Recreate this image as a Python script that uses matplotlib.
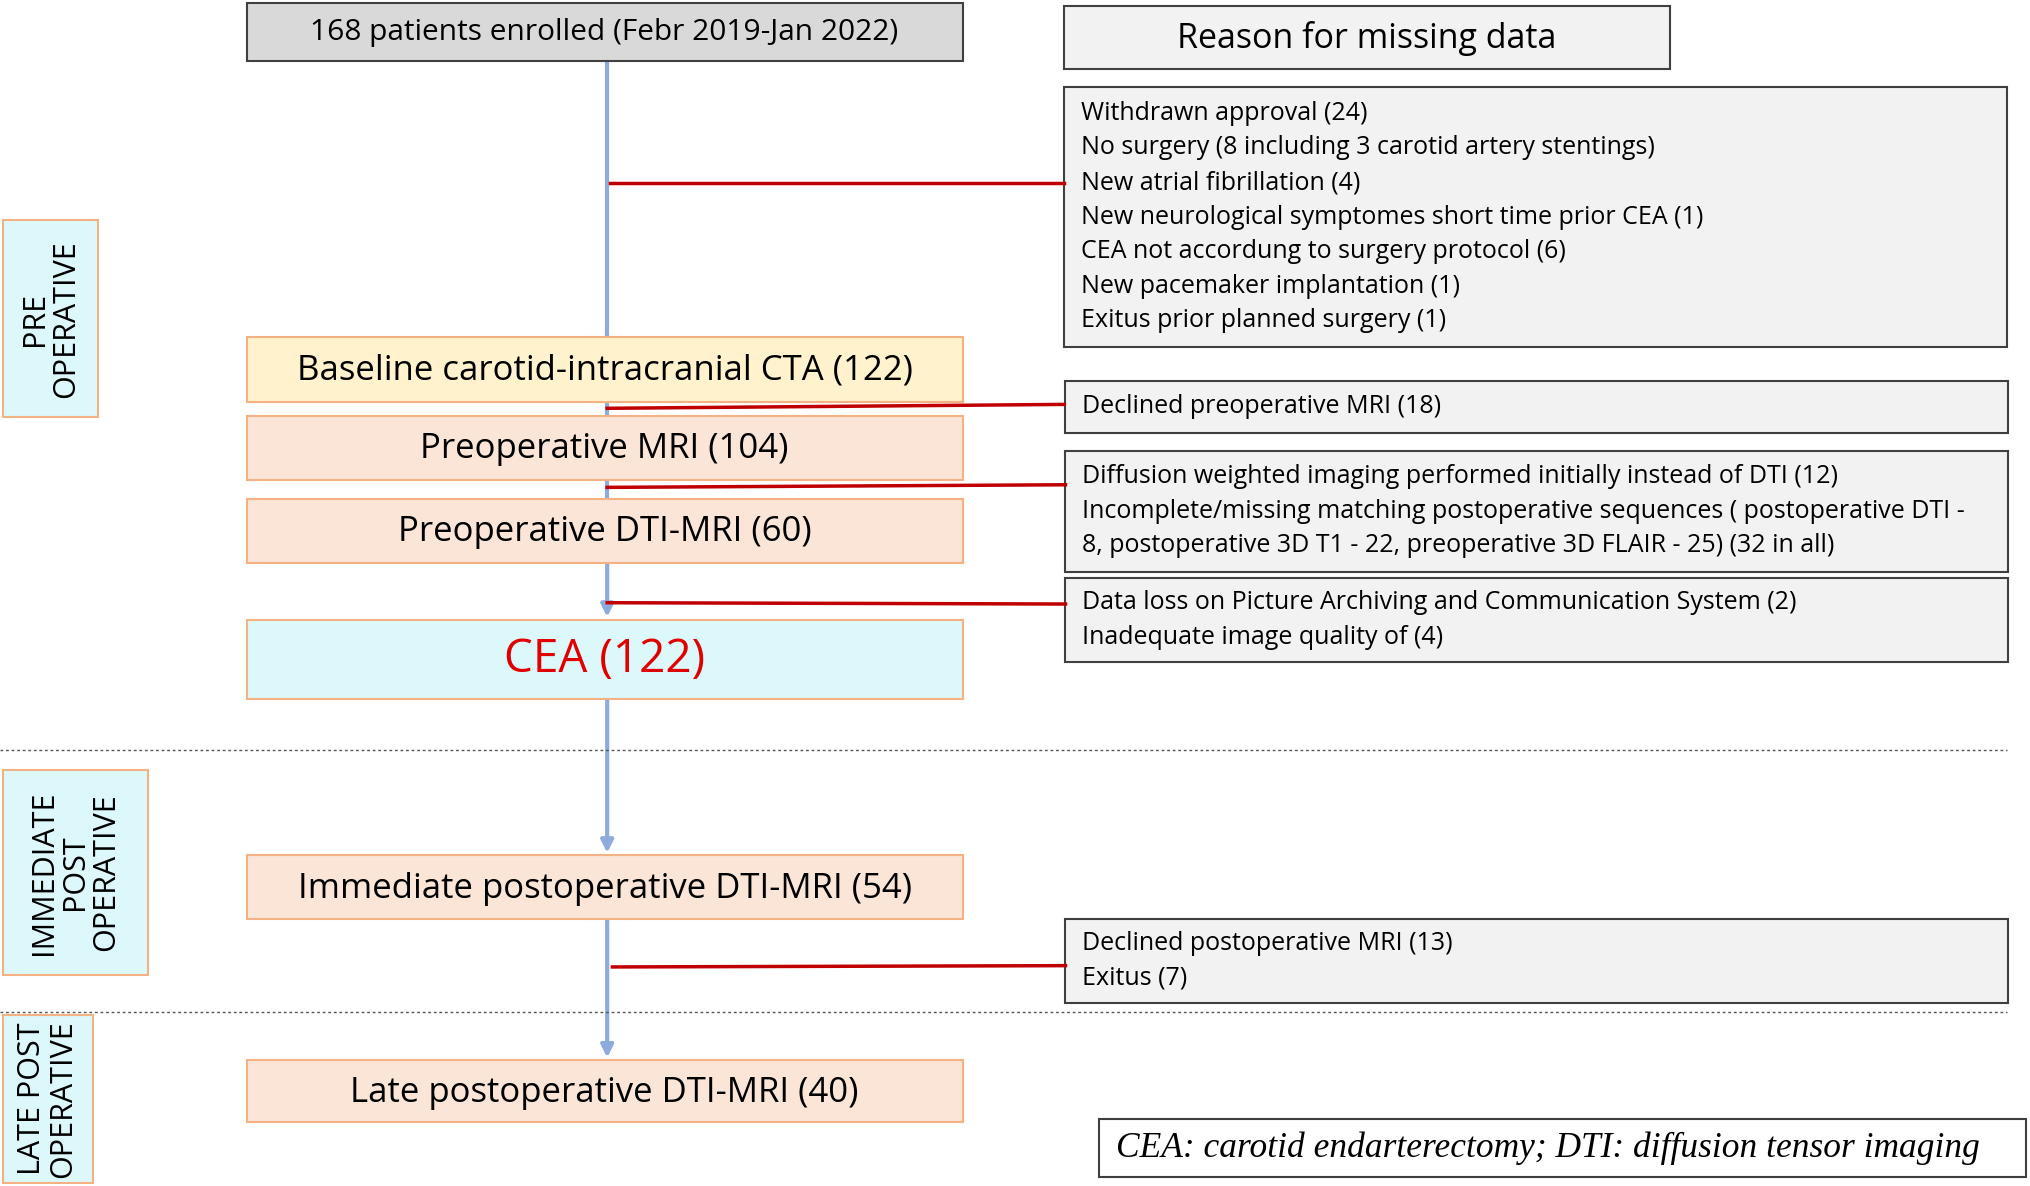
import matplotlib
matplotlib.use("Agg")
import matplotlib.pyplot as plt
from matplotlib.patches import Rectangle, FancyArrowPatch

FONT = "Open Sans"
top_label = "168 patients enrolled (Febr 2019-Jan 2022)"
flow_labels = ["Baseline carotid-intracranial CTA (122)", "Preoperative MRI (104)",
               "Preoperative DTI-MRI (60)", "CEA (122)",
               "Immediate postoperative DTI-MRI (54)", "Late postoperative DTI-MRI (40)"]
reason_groups = [
    ["Withdrawn approval (24)", "No surgery (8 including 3 carotid artery stentings)",
     "New atrial fibrillation (4)", "New neurological symptomes short time prior CEA (1)",
     "CEA not accordung to surgery protocol (6)", "New pacemaker implantation (1)",
     "Exitus prior planned surgery (1)"],
    ["Declined preoperative MRI (18)"],
    ["Diffusion weighted imaging performed initially instead of DTI (12)",
     "Incomplete/missing matching postoperative sequences ( postoperative DTI -",
     "8, postoperative 3D T1 - 22, preoperative 3D FLAIR - 25) (32 in all)"],
    ["Data loss on Picture Archiving and Communication System (2)",
     "Inadequate image quality of (4)"],
    ["Declined postoperative MRI (13)", "Exitus (7)"],
]
phase_labels = ["PRE\nOPERATIVE", "IMMEDIATE\nPOST\nOPERATIVE", "LATE POST\nOPERATIVE"]
footnote = "CEA: carotid endarterectomy; DTI: diffusion tensor imaging"

fig = plt.figure(figsize=(20.3, 11.86), dpi=100)
ax = fig.add_axes([0, 0, 1, 1])
ax.set_xlim(0, 1568); ax.set_ylim(915, 0); ax.axis("off")

def box(x0, y0, x1, y1, fc, ec, lw=1.5):
    ax.add_patch(Rectangle((x0, y0), x1 - x0, y1 - y0, facecolor=fc, edgecolor=ec, lw=lw, zorder=2))

blue = "#8faadc"; red = "#c00000"; orange = "#f4b183"
for (a, b, arr) in [(47, 260, False), (310, 321, False), (370, 385, False), (434, 476, True),
                    (539, 658, True), (709, 816, True)]:
    if arr:
        ax.add_patch(FancyArrowPatch((469, a), (469, b), arrowstyle="-|>", mutation_scale=18,
                                     color=blue, lw=3, zorder=1, shrinkA=0, shrinkB=0))
    else:
        ax.plot([469, 469], [a, b], color=blue, lw=3, zorder=1)

for y in [579, 781]:
    ax.plot([0, 1550], [y, y], color="#555555", lw=1, ls=(0, (2, 2)), zorder=1)

box(191, 2, 744, 47, "#d9d9d9", "#404040")
ax.text(467, 25, top_label, ha="center", va="center", fontsize=21.5, family=FONT, zorder=3)

flow_pos = [(260, 310), (321, 370), (385, 434), (478, 539), (660, 709), (818, 866)]
flow_fc = ["#fff2cc", "#fbe5d6", "#fbe5d6", "#dcf8fb", "#fbe5d6", "#fbe5d6"]
for lab, (y0, y1), fc in zip(flow_labels, flow_pos, flow_fc):
    box(191, y0, 744, y1, fc, orange)
    is_cea = lab.startswith("CEA")
    ax.text(467, (y0 + y1) / 2 + 1, lab, ha="center", va="center", family=FONT, zorder=3,
            fontsize=33 if is_cea else 25, color="#e00000" if is_cea else "black")

box(822, 5, 1290, 53, "#f2f2f2", "#404040")
ax.text(1056, 30, "Reason for missing data", ha="center", va="center", fontsize=24.5, family=FONT, zorder=3)

reason_boxes = [(822, 67, 1550, 268), (823, 294, 1551, 334), (823, 348, 1551, 441),
                (823, 446, 1551, 511), (823, 709, 1551, 774)]
for lines, (x0, y0, x1, y1) in zip(reason_groups, reason_boxes):
    box(x0, y0, x1, y1, "#f2f2f2", "#404040")
    n = len(lines); step = 26.7
    start = (y0 + y1) / 2 - step * (n - 1) / 2
    for i, t in enumerate(lines):
        ax.text(x0 + 13, start + i * step, t, ha="left", va="center", fontsize=18,
                family=FONT, zorder=3)

for (xa, ya, xb, yb) in [(471, 141, 822, 141), (469, 315, 822, 312), (469, 376, 823, 374),
                         (469, 465, 823, 466), (473, 746, 823, 745)]:
    ax.plot([xa, xb], [ya, yb], color=red, lw=2.5, zorder=3)

phase_boxes = [(2, 170, 76, 322), (2, 594, 114, 752), (2, 783, 72, 913)]
for lab, (x0, y0, x1, y1) in zip(phase_labels, phase_boxes):
    box(x0, y0, x1, y1, "#dcf8fb", orange)
    ax.text((x0 + x1) / 2, (y0 + y1) / 2, lab, ha="center", va="center", rotation=90,
            fontsize=22, family=FONT, linespacing=1.05, zorder=3)

box(849, 863, 1565, 908, "white", "#404040")
ax.text(1196, 886, footnote, ha="center", va="center", fontsize=25.5, style="italic",
        family="Liberation Serif", zorder=3)

fig.savefig("out.png", dpi=100)
